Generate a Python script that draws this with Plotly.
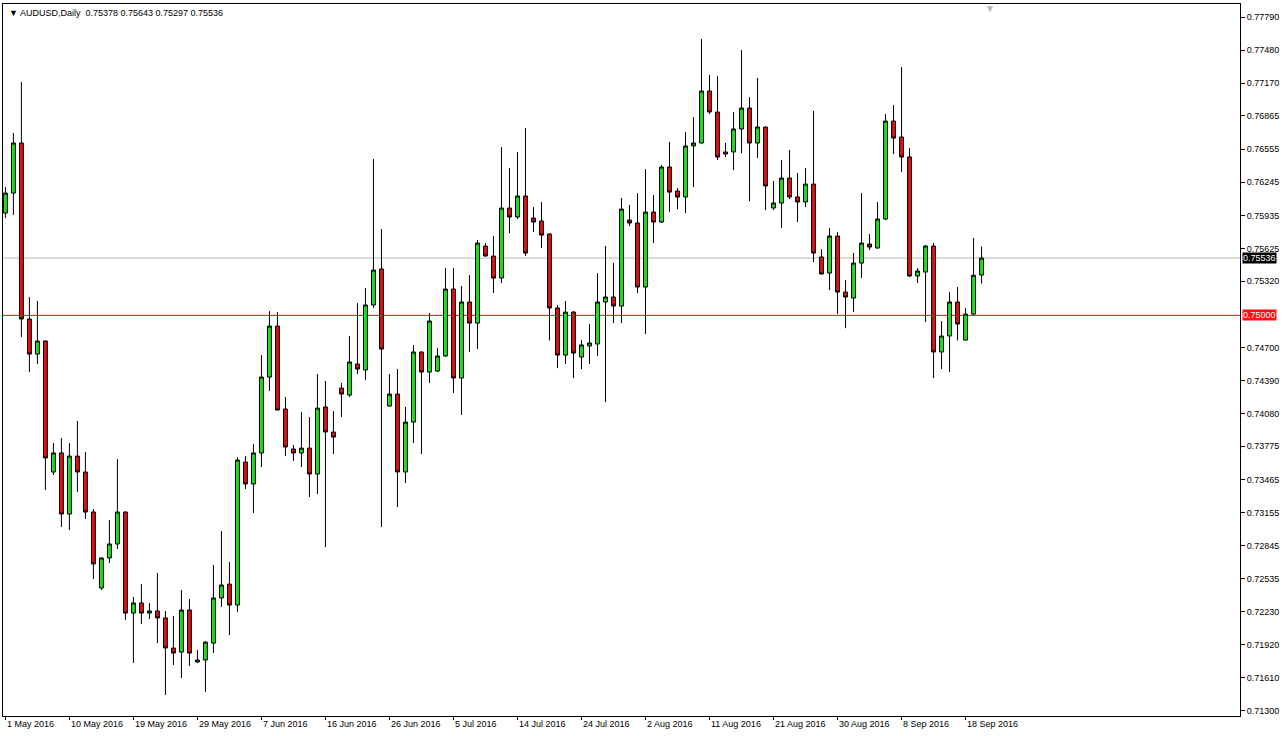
import plotly.graph_objects as go

# OHLC values per daily bar (bar index 0 = 1 May 2016)
opens = [0.75957,0.76144,0.76612,0.74966,0.74638,0.74760,0.73535,0.73713,0.73142,0.73684,
         0.73535,0.73161,0.72450,0.72731,0.72862,0.73161,0.72216,0.72310,0.72216,0.72235,
         0.72170,0.71889,0.71851,0.72244,0.71758,0.71777,0.71935,0.72357,0.72487,0.72291,
         0.73628,0.73423,0.73713,0.74423,0.74900,0.74124,0.73750,0.73713,0.73759,0.73516,
         0.74143,0.73909,0.74320,0.74255,0.74545,0.74489,0.75097,0.75433,0.74152,0.74264,
         0.73535,0.74002,0.74657,0.74470,0.74479,0.74620,0.75246,0.74414,0.75125,0.74928,
         0.75648,0.75555,0.75349,0.76004,0.75920,0.76116,0.75910,0.75882,0.75761,0.75069,
         0.74629,0.75031,0.74610,0.74713,0.74732,0.75125,0.75172,0.75087,0.75892,0.75864,
         0.75265,0.75966,0.75873,0.76387,0.76163,0.76107,0.76584,0.76612,0.77098,0.76902,
         0.76509,0.76528,0.76743,0.76939,0.76612,0.76761,0.76004,0.76051,0.76284,0.76107,
         0.76060,0.76228,0.75546,0.75396,0.75742,0.75218,0.75162,0.75489,0.75667,0.75630,
         0.75901,0.76817,0.76668,0.76481,0.75368,0.75405,0.75648,0.74657,0.74807,0.75125,
         0.74769,0.75012,0.75378]
highs = [0.76200,0.76705,0.77182,0.75172,0.75134,0.74765,0.73806,0.73853,0.73806,0.74012,
         0.73722,0.73189,0.72735,0.73086,0.73656,0.73165,0.72366,0.72487,0.72310,0.72590,
         0.72235,0.72188,0.72431,0.72347,0.71870,0.71954,0.72665,0.72983,0.72693,0.73675,
         0.73684,0.73797,0.74629,0.75040,0.75031,0.74236,0.73787,0.74096,0.74049,0.74451,
         0.74386,0.74105,0.74367,0.74807,0.75115,0.75256,0.76462,0.75807,0.74451,0.74498,
         0.74143,0.74723,0.74662,0.75022,0.74694,0.75443,0.75443,0.75274,0.75377,0.75705,
         0.75676,0.75742,0.76574,0.76378,0.76528,0.76752,0.76013,0.76060,0.75765,0.75097,
         0.75134,0.75040,0.74769,0.74919,0.75396,0.75648,0.75489,0.76097,0.76032,0.76144,
         0.76368,0.76125,0.76406,0.76621,0.76191,0.76715,0.76854,0.77584,0.77248,0.77238,
         0.76612,0.76902,0.77481,0.77042,0.77220,0.76766,0.76256,0.76453,0.76546,0.76331,
         0.76378,0.76911,0.75620,0.75817,0.75779,0.75330,0.75583,0.76144,0.75761,0.76060,
         0.76883,0.76967,0.77322,0.76565,0.75443,0.75658,0.75676,0.74947,0.75218,0.75265,
         0.75069,0.75723,0.75643]
lows = [0.75910,0.75938,0.74797,0.74470,0.74545,0.73367,0.73507,0.73020,0.72992,0.73348,
        0.73095,0.72534,0.72431,0.72684,0.72815,0.72151,0.71749,0.72113,0.72160,0.71935,
        0.71449,0.71730,0.71608,0.71721,0.71749,0.71477,0.71842,0.72272,0.72010,0.72226,
        0.73376,0.73151,0.73582,0.74292,0.74110,0.73684,0.73638,0.73582,0.73301,0.73329,
        0.72833,0.73703,0.74049,0.74236,0.74451,0.74395,0.75069,0.73020,0.74148,0.73208,
        0.73432,0.73806,0.73703,0.74367,0.74470,0.74615,0.74274,0.74068,0.74657,0.74685,
        0.75550,0.75209,0.75302,0.75770,0.75901,0.75555,0.75779,0.75630,0.74765,0.74507,
        0.74545,0.74414,0.74498,0.74545,0.74620,0.74190,0.74928,0.74928,0.75835,0.75209,
        0.74825,0.75676,0.75864,0.75966,0.75994,0.75957,0.76200,0.76607,0.76883,0.76453,
        0.76481,0.76359,0.76518,0.76069,0.76471,0.75985,0.75985,0.75817,0.76088,0.75873,
        0.76013,0.75499,0.75382,0.75237,0.75012,0.74880,0.75031,0.75349,0.75611,0.75625,
        0.75892,0.76509,0.76340,0.75358,0.75302,0.74938,0.74414,0.74498,0.74470,0.74765,
        0.74765,0.75003,0.75297]
closes = [0.76144,0.76612,0.74966,0.74638,0.74760,0.73666,0.73713,0.73142,0.73684,0.73535,
          0.73161,0.72675,0.72731,0.72862,0.73161,0.72216,0.72310,0.72216,0.72235,0.72170,
          0.71889,0.71842,0.72244,0.71842,0.71777,0.71944,0.72357,0.72478,0.72291,0.73647,
          0.73423,0.73713,0.74423,0.74900,0.74115,0.73769,0.73713,0.73759,0.73516,0.74133,
          0.73909,0.73862,0.74264,0.74564,0.74498,0.75097,0.75424,0.74685,0.74264,0.73535,
          0.74002,0.74657,0.74470,0.74947,0.74620,0.75246,0.74414,0.75125,0.74928,0.75676,
          0.75555,0.75349,0.76004,0.75920,0.76116,0.75583,0.75873,0.75751,0.75069,0.74629,
          0.75031,0.74648,0.74723,0.74741,0.75125,0.75172,0.75087,0.75994,0.75864,0.75265,
          0.75966,0.75873,0.76387,0.76153,0.76107,0.76584,0.76612,0.77098,0.76902,0.76481,
          0.76528,0.76743,0.76939,0.76612,0.76761,0.76210,0.76051,0.76284,0.76107,0.76060,
          0.76228,0.75583,0.75387,0.75742,0.75218,0.75172,0.75489,0.75676,0.75639,0.75901,
          0.76817,0.76658,0.76481,0.75368,0.75415,0.75648,0.74657,0.74807,0.75125,0.74919,
          0.75012,0.75375,0.75536]

date_labels = ["1 May 2016", "10 May 2016", "19 May 2016", "29 May 2016", "7 Jun 2016",
               "16 Jun 2016", "26 Jun 2016", "5 Jul 2016", "14 Jul 2016", "24 Jul 2016",
               "2 Aug 2016", "11 Aug 2016", "21 Aug 2016", "30 Aug 2016", "8 Sep 2016",
               "18 Sep 2016"]
date_label_bars = [0, 8, 16, 24, 32, 40, 48, 56, 64, 72, 80, 88, 96, 104, 112, 120]

price_ticks = [0.77790, 0.77480, 0.77170, 0.76865, 0.76555, 0.76245, 0.75935, 0.75625,
               0.75320, 0.74700, 0.74390, 0.74080, 0.73775, 0.73465, 0.73155, 0.72845,
               0.72535, 0.72230, 0.71920, 0.71610, 0.71300]
bid_price = 0.75536
level_price = 0.75000
header_text = "AUDUSD,Daily  0.75378 0.75643 0.75297 0.75536"

FONT = "Liberation Sans, Arial, sans-serif"
bars = list(range(len(opens)))

fig = go.Figure()
fig.add_trace(go.Candlestick(
    x=bars, open=opens, high=highs, low=lows, close=closes,
    increasing=dict(line=dict(color="black", width=1), fillcolor="#22DD22"),
    decreasing=dict(line=dict(color="black", width=1), fillcolor="#DD1111"),
    whiskerwidth=0, hoverinfo="skip", showlegend=False,
))

# bid line and 0.75 level line
fig.add_hline(y=bid_price, line=dict(color="#B4B4B4", width=1), layer="below")
fig.add_hline(y=level_price, line=dict(color="#FF0000", width=1), layer="below")

annotations = []
for b, t in zip(date_label_bars, date_labels):
    annotations.append(dict(x=b - 0.1, y=0, xref="x", yref="paper", text=t,
                            showarrow=False, xanchor="left", yanchor="top", yshift=-1,
                            font=dict(family=FONT, size=9, color="black")))
annotations.append(dict(x=1, y=bid_price, xref="paper", yref="y",
                        text="%.5f" % bid_price, showarrow=False, xanchor="left",
                        xshift=2, bgcolor="black", borderpad=0,
                        font=dict(family=FONT, size=9, color="white")))
annotations.append(dict(x=1, y=level_price, xref="paper", yref="y",
                        text="%.5f" % level_price, showarrow=False, xanchor="left",
                        xshift=2, bgcolor="#FF1010", borderpad=0,
                        font=dict(family=FONT, size=9, color="white")))
annotations.append(dict(x=0, y=1, xref="paper", yref="paper",
                        text="\u25BC " + header_text, showarrow=False,
                        xanchor="left", yanchor="top", xshift=4, yshift=-2,
                        font=dict(family=FONT, size=9, color="black")))
annotations.append(dict(x=123.1, y=1, xref="x", yref="paper", text="\u25BC",
                        showarrow=False, xanchor="center", yanchor="top", yshift=3,
                        font=dict(family=FONT, size=10, color="#B8B8B8")))

fig.update_layout(
    width=1285, height=736,
    margin=dict(l=3, r=45, t=4, b=20),
    paper_bgcolor="white", plot_bgcolor="white",
    annotations=annotations,
    xaxis=dict(range=[-0.3, 154.3], rangeslider=dict(visible=False),
               showgrid=False, zeroline=False, showline=True, linecolor="black",
               linewidth=1, mirror=True, tickmode="array", tickvals=date_label_bars,
               ticktext=[""] * len(date_label_bars), ticks="outside", ticklen=3,
               tickcolor="black", fixedrange=True),
    yaxis=dict(side="right", range=[0.71253, 0.77912], showgrid=False, zeroline=False,
               showline=True, linecolor="black", linewidth=1, mirror=True,
               tickmode="array", tickvals=price_ticks,
               ticktext=["%.5f" % v for v in price_ticks], ticks="outside", ticklen=4,
               tickcolor="black", tickfont=dict(family=FONT, size=9, color="black"),
               fixedrange=True),
)

fig.write_html("out.html", config={"displayModeBar": False},
               post_script="document.body.style.margin='0';document.body.style.overflow='hidden';")
